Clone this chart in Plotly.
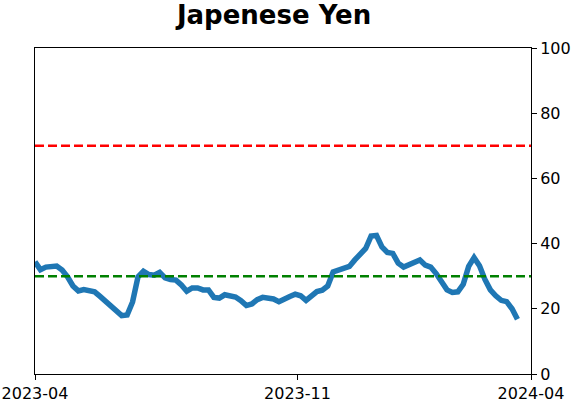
import pandas as pd
import plotly.graph_objects as go

# weekly-ish samples (every 4 days)
start = "2023-04-03"
dates = pd.date_range(start, periods=90, freq="4D")
values = [
    34.4, 32.0, 32.8, 33.1, 33.1, 31.9, 29.8, 27.0, 25.5, 25.9,
    25.5, 25.2, 23.8, 22.4, 20.6, 19.6, 17.9, 18.1, 22.1, 29.8,
    31.5, 30.5, 30.3, 31.2, 29.5, 29.0, 28.8, 27.3, 25.4, 26.4,
    26.4, 25.8, 25.8, 23.5, 23.3, 24.3, 23.9, 23.6, 22.5, 21.0,
    21.5, 22.8, 23.5, 23.2, 23.0, 22.2, 23.2, 23.8, 24.5, 24.0,
    22.6, 23.9, 25.3, 25.7, 27.0, 31.3, 31.8, 32.2, 33.0, 35.0,
    37.0, 38.5, 42.3, 42.5, 39.0, 37.3, 37.0, 34.0, 32.8, 33.4,
    34.3, 35.0, 33.4, 32.8, 30.8, 28.4, 25.8, 25.0, 25.2, 27.5,
    33.0, 35.7, 33.2, 29.0, 25.8, 24.0, 22.6, 22.2, 20.0, 16.8,
]
upper_level = 70
lower_level = 30

x_start = pd.Timestamp(start)
x_end = x_start + pd.Timedelta(days=366)
tick_vals = [x_start, x_start + pd.Timedelta(days=193.7), x_end]
tick_text = ["2023-04", "2023-11", "2024-04"]

fig = go.Figure()
fig.add_trace(go.Scatter(
    x=dates, y=values, mode="lines",
    line=dict(color="#1f77b4", width=5.5),
    showlegend=False,
))
fig.add_hline(y=upper_level, line=dict(color="#ff0000", width=2.5, dash="9px,4px"))
fig.add_hline(y=lower_level, line=dict(color="#008000", width=2.5, dash="9px,4px"))

fig.update_layout(
    width=571, height=402,
    margin=dict(l=35, r=40, t=48, b=28, autoexpand=False),
    paper_bgcolor="white", plot_bgcolor="white",
    font=dict(family="DejaVu Sans", size=16, color="black"),
    title=dict(text="<b>Japenese Yen</b>", x=0.48, xanchor="center",
               y=0.962, yanchor="middle", font=dict(size=26)),
    xaxis=dict(
        range=[x_start, x_end], tickvals=tick_vals, ticktext=tick_text,
        automargin=False,
        showgrid=False, zeroline=False, showline=True, linecolor="black",
        linewidth=1, mirror=True, ticks="outside", ticklen=5, tickcolor="black",
    ),
    yaxis=dict(
        range=[0, 100], tickvals=[0, 20, 40, 60, 80, 100], side="right",
        automargin=False,
        showgrid=False, zeroline=False, showline=True, linecolor="black",
        linewidth=1, mirror=True, ticks="outside", ticklen=5, tickcolor="black",
    ),
)

# drop the browser's default page margin so the figure sits at the top-left corner
fig.write_html("out.html", config={"displayModeBar": False},
               post_script="document.body.style.margin='0';")
